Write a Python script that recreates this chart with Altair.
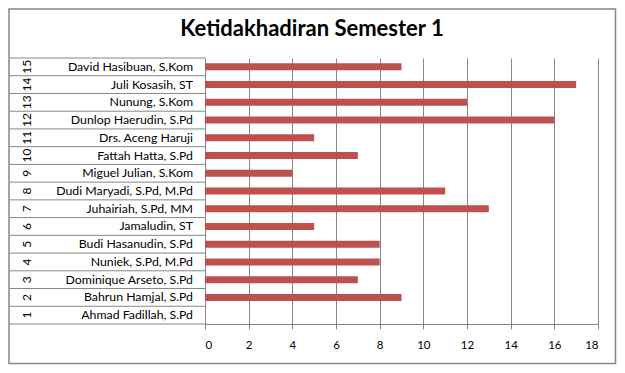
import altair as alt
import pandas as pd

nums = [str(i) for i in range(1, 16)]
names = [
    "Ahmad Fadillah, S.Pd", "Bahrun Hamjal,  S.Pd", "Dominique Arseto, S.Pd",
    "Nuniek, S.Pd, M.Pd", "Budi Hasanudin,  S.Pd", "Jamaludin, ST",
    "Juhairiah, S.Pd, MM", "Dudi Maryadi,  S.Pd, M.Pd", "Miguel Julian,  S.Kom",
    "Fattah  Hatta,  S.Pd", "Drs. Aceng Haruji", "Dunlop Haerudin, S.Pd",
    "Nunung, S.Kom", "Juli Kosasih,  ST", "David Hasibuan, S.Kom",
]
values = [0, 9, 7, 8, 8, 5, 13, 11, 4, 7, 5, 16, 12, 17, 9]
x_ticks = list(range(0, 19, 2))
title_text = "Ketidakhadiran Semester 1"

df = pd.DataFrame({"no": nums, "name": names, "val": values})
order = nums[::-1]
FONT = "Lato"
GRAY = "#868686"

yenc = alt.Y("no:N", sort=order,
             scale=alt.Scale(paddingInner=0, paddingOuter=0),
             axis=alt.Axis(labels=False, ticks=False, title=None,
                           domainColor=GRAY, grid=False))

base = alt.Chart(df)

bars = base.mark_bar(color="#C0504D", size=7).encode(
    x=alt.X("val:Q", scale=alt.Scale(domain=[0, 18], nice=False),
            axis=alt.Axis(values=x_ticks, title=None, grid=True,
                          gridColor=GRAY, tickColor=GRAY, domainColor=GRAY,
                          tickSize=5, labelPadding=10, labelFont=FONT,
                          labelFontSize=11.5, labelColor="black")),
    y=yenc,
)

name_text = base.mark_text(align="right", baseline="middle", font=FONT,
                           fontSize=12.3, color="black").encode(
    x=alt.value(-12), y=alt.Y("no:N", sort=order), text="name:N")

num_text = base.mark_text(align="center", baseline="middle", font=FONT,
                          fontSize=12, angle=270, color="black").encode(
    x=alt.value(-178), y=alt.Y("no:N", sort=order), text="no:N")

sep = base.mark_rule(color=GRAY, strokeWidth=1).encode(
    x=alt.value(-195), x2=alt.value(0),
    y=alt.Y("no:N", sort=order, bandPosition=0))

sep_bottom = base.mark_rule(color=GRAY, strokeWidth=1).transform_filter(
    alt.datum.no == "1").encode(
    x=alt.value(-195), x2=alt.value(0),
    y=alt.Y("no:N", sort=order, bandPosition=1))

tdf = pd.DataFrame({"t": [title_text]})
title = alt.Chart(tdf).mark_text(font=FONT, fontSize=22, fontWeight="bold",
                                 align="center", baseline="middle",
                                 color="black").encode(
    x=alt.value(107), y=alt.value(-29), text="t:N")

frame = alt.Chart(tdf).mark_rect(filled=False, stroke=GRAY, strokeWidth=1.5).encode(
    x=alt.value(-196), x2=alt.value(410.5), y=alt.value(-49), y2=alt.value(305.5))

chart = alt.layer(frame, sep, sep_bottom, bars, name_text, num_text, title).properties(
    width=393, height=266,
    autosize=alt.AutoSizeParams(type="none"),
    padding={"left": 197, "top": 50, "right": 19, "bottom": 41},
    background="white",
).configure_view(stroke=None)

chart.save("out.html", embed_options={"renderer": "svg", "actions": False})
